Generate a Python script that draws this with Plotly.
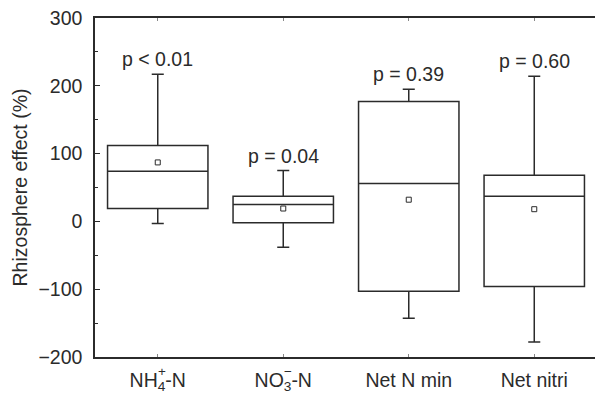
import plotly.graph_objects as go

categories = ["NH<sub>4</sub>-N", "NO<sub>3</sub>-N", "Net N min", "Net nitri"]
label_charges = ["+", "\u2212", "", ""]
upper_whisker = [217, 75, 195, 214]
q3_vals = [112, 37, 177, 68]
median_vals = [74, 25, 56, 37]
mean_vals = [87, 19, 32, 18]
q1_vals = [19, -2, -103, -96]
lower_whisker = [-3, -38, -143, -178]
p_labels = ["p < 0.01", "p = 0.04", "p = 0.39", "p = 0.60"]

ink = "#2b2b2b"
font_family = "Liberation Sans, Arial, sans-serif"
fs = 19.5

xpos = list(range(len(categories)))

fig = go.Figure()
fig.add_trace(go.Box(
    x=xpos,
    q1=q1_vals, median=median_vals, q3=q3_vals,
    lowerfence=lower_whisker, upperfence=upper_whisker,
    width=0.8, whiskerwidth=0.12,
    fillcolor="white",
    line=dict(color=ink, width=1.5),
    boxpoints=False,
    hoverinfo="skip",
    showlegend=False,
))
fig.add_trace(go.Scatter(
    x=xpos, y=mean_vals, mode="markers",
    marker=dict(symbol="square-open", size=5, color=ink, line=dict(width=1, color=ink)),
    showlegend=False, hoverinfo="skip",
))

for i, (lab, uw) in enumerate(zip(p_labels, upper_whisker)):
    fig.add_annotation(x=i, y=uw, text=lab, showarrow=False,
                       xref="x", yref="y", yanchor="middle", yshift=15,
                       font=dict(size=fs, color=ink, family=font_family))

# stacked superscript charges above the subscripts of the ion labels
charge_xshift = [4.0, 4.5]
for i, ch in enumerate(label_charges):
    if ch:
        fig.add_annotation(x=i, y=0, xref="x", yref="paper", text=ch, showarrow=False,
                           xanchor="center", yanchor="middle",
                           xshift=charge_xshift[i], yshift=-14,
                           font=dict(size=13.5, color=ink, family=font_family))

fig.update_layout(
    width=595, height=395,
    margin=dict(l=95, r=0, t=18, b=38),
    paper_bgcolor="white", plot_bgcolor="white",
    font=dict(family=font_family, size=fs, color=ink),
    showlegend=False,
    xaxis=dict(
        range=[-0.5, 3.484],
        tickmode="array", tickvals=xpos, ticktext=categories,
        showline=True, linecolor=ink, linewidth=1.5,
        mirror="allticks",
        ticks="inside", ticklen=3, tickwidth=1, tickcolor="#888",
        showgrid=False, zeroline=False,
        ticklabelstandoff=5,
        tickfont=dict(size=fs, color=ink),
    ),
    yaxis=dict(
        range=[-200, 300],
        tickmode="array", tickvals=[-200, -100, 0, 100, 200, 300],
        ticktext=["\u2212200", "\u2212100", "0", "100", "200", "300"],
        showline=True, linecolor=ink, linewidth=1.5,
        ticks="inside", ticklen=5, tickwidth=1.2, tickcolor=ink,
        minor=dict(tickvals=[-150, -50, 50, 150, 250], ticks="inside", ticklen=3, tickwidth=1, tickcolor=ink),
        showgrid=False, zeroline=False,
        ticklabelstandoff=7,
        tickfont=dict(size=fs, color=ink),
        title=dict(text="Rhizosphere effect (%)", font=dict(size=19.5, color=ink), standoff=6),
    ),
)

fig.write_html("out.html")
